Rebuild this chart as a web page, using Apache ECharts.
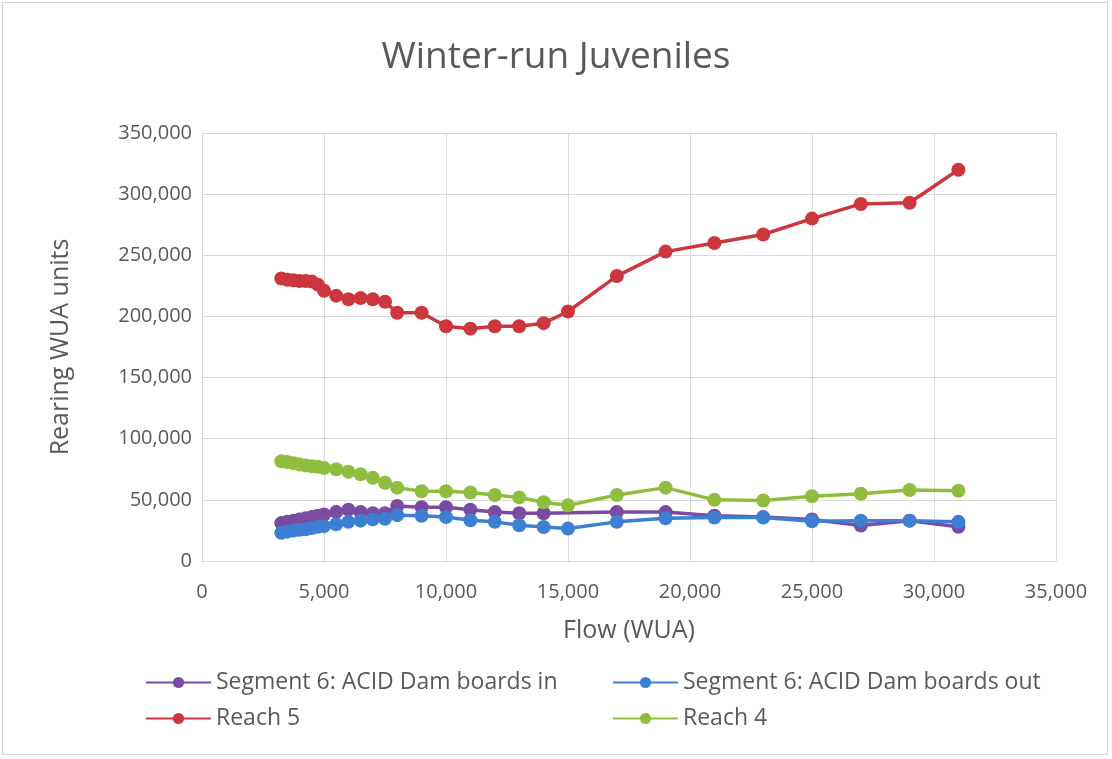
<!DOCTYPE html>
<html>
<head>
<meta charset="utf-8">
<script src="https://cdn.jsdelivr.net/npm/echarts@6/dist/echarts.min.js"></script>
<style>
html,body{margin:0;padding:0;background:#fff;}
#frame{position:absolute;left:2px;top:2px;width:1106px;height:753px;border:1px solid #d4d4d4;box-sizing:border-box;}
#chart{position:absolute;left:0;top:0;width:1112px;height:759px;}
</style>
</head>
<body>
<div id="frame"></div>
<div id="chart"></div>
<script>
var titleText = "Winter-run Juveniles";
var xName = "Flow (WUA)";
var yName = "Rearing WUA units";
var seriesNames = ["Segment 6: ACID Dam boards in", "Segment 6: ACID Dam boards out", "Reach 5", "Reach 4"];

var flows = [3250, 3500, 3750, 4000, 4250, 4500, 4750, 5000, 5500, 6000, 6500, 7000, 7500, 8000, 9000, 10000, 11000, 12000, 13000, 14000, 15000, 17000, 19000, 21000, 23000, 25000, 27000, 29000, 31000];

var boardsIn = [31000, 32000, 33000, 34000, 35000, 36000, 37000, 38000, 40000, 42000, 40000, 39000, 39000, 45000, 44000, 44000, 42000, 40000, 39000, 39000, null, 40000, 40000, 37000, 36000, 34000, 29000, 33000, 28000];
var boardsOut = [23000, 24000, 25000, 25500, 26000, 27000, 28000, 28500, 30000, 32000, 33000, 34000, 34500, 37500, 37000, 36000, 33300, 32000, 29200, 27800, 26500, 32000, 35000, 35500, 35500, 32500, 33000, 33000, 32000];
var reach5 = [231000, 230000, 229500, 229000, 229000, 228500, 226000, 221000, 217000, 214000, 215000, 214000, 212000, 203000, 203000, 192000, 190000, 192000, 192000, 194500, 204000, 233000, 253000, 260000, 267000, 280000, 292000, 293000, 320000];
var reach4 = [81500, 81000, 80000, 79000, 78000, 77500, 77000, 76000, 75000, 73000, 71000, 68000, 64000, 60000, 57000, 57000, 56000, 54000, 52000, 48000, 45500, 54000, 60000, 50000, 49500, 53000, 55000, 58000, 57500];

var colors = ["#7b4ba3", "#3d7fd0", "#cc363c", "#8fbe3e"];
var FONT = "'Open Sans', 'Noto Sans', sans-serif";
var TXT = "#595959";

function pairs(xs, ys) {
  return xs.map(function (x, i) { return [x, ys[i]]; });
}

var allValues = [boardsIn, boardsOut, reach5, reach4];
var series = seriesNames.map(function (name, i) {
  return {
    name: name,
    type: 'line',
    data: pairs(flows, allValues[i]),
    connectNulls: true,
    symbol: 'circle',
    symbolSize: 14,
    showSymbol: true,
    lineStyle: { width: 3.5, color: colors[i] },
    itemStyle: { color: colors[i] },
    emphasis: { disabled: true },
    animation: false
  };
});

var legendCommon = {
  orient: 'vertical',
  top: 666,
  itemWidth: 65,
  itemHeight: 14,
  itemGap: 13,
  textStyle: { fontFamily: FONT, fontSize: 23, color: TXT }
};

var chart = echarts.init(document.getElementById('chart'), null, { renderer: 'canvas' });
chart.setOption({
  animation: false,
  color: colors,
  title: {
    text: titleText,
    left: 'center',
    top: 34,
    textStyle: { fontFamily: FONT, fontSize: 37, fontWeight: 'normal', color: TXT }
  },
  legend: [
    Object.assign({ data: [seriesNames[0], seriesNames[2]], left: 140 }, legendCommon),
    Object.assign({ data: [seriesNames[1], seriesNames[3]], left: 607 }, legendCommon)
  ],
  grid: { left: 202, right: 56, top: 133, bottom: 198, containLabel: false },
  xAxis: {
    type: 'value',
    min: 0,
    max: 35000,
    interval: 5000,
    name: xName,
    nameLocation: 'middle',
    nameGap: 57,
    nameTextStyle: { fontFamily: FONT, fontSize: 25, color: TXT },
    axisLine: { show: true, lineStyle: { color: '#d9d9d9', width: 1 } },
    axisTick: { show: false },
    splitLine: { show: true, lineStyle: { color: '#d9d9d9', width: 1 } },
    axisLabel: {
      fontFamily: FONT, fontSize: 20, color: TXT, margin: 21,
      formatter: function (v) { return v.toLocaleString('en-US'); }
    }
  },
  yAxis: {
    type: 'value',
    min: 0,
    max: 350000,
    interval: 50000,
    name: yName,
    nameLocation: 'middle',
    nameGap: 129,
    nameTextStyle: { fontFamily: FONT, fontSize: 25, color: TXT },
    axisLine: { show: true, lineStyle: { color: '#d9d9d9', width: 1 } },
    axisTick: { show: false },
    splitLine: { show: true, lineStyle: { color: '#d9d9d9', width: 1 } },
    axisLabel: {
      fontFamily: FONT, fontSize: 20, color: TXT, margin: 10,
      formatter: function (v) { return v.toLocaleString('en-US'); }
    }
  },
  series: series
});
</script>
</body>
</html>
